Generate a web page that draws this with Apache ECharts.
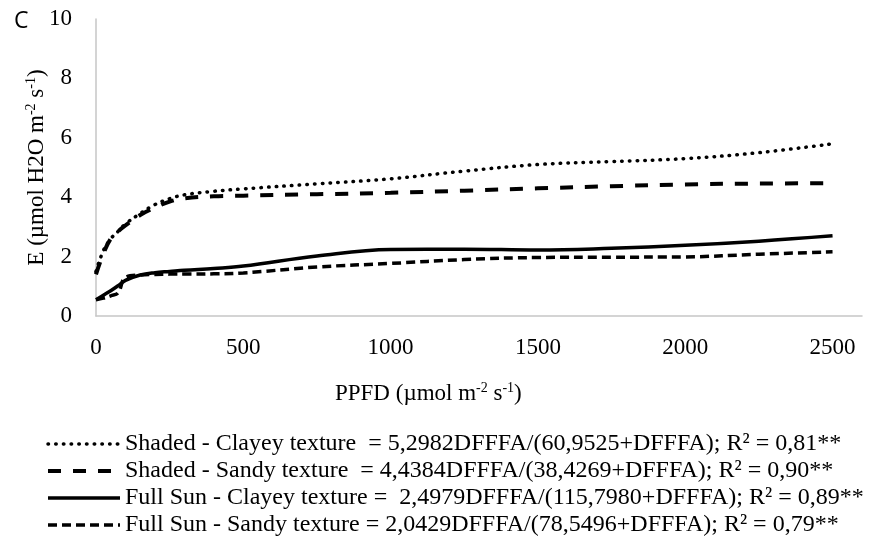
<!DOCTYPE html>
<html>
<head>
<meta charset="utf-8">
<script src="https://cdn.jsdelivr.net/npm/echarts/dist/echarts.min.js"></script>
<style>
  html, body { margin: 0; padding: 0; background: #fff; }
  #chart { width: 869px; height: 540px; }
</style>
</head>
<body>
<div id="chart"></div>
<script>
// PPFD points
var ppfd = [0, 25, 50, 75, 100, 150, 200, 250, 300, 400, 500, 750, 1000, 1250, 1500, 1750, 2000, 2250, 2500];

var shadedClayey = [1.5, 2.2, 2.6, 2.85, 3.1, 3.45, 3.75, 3.95, 4.08, 4.2, 4.28, 4.45, 4.62, 4.88, 5.1, 5.2, 5.3, 5.5, 5.8];
var shadedSandy = [1.4, 2.1, 2.6, 2.85, 3.05, 3.4, 3.65, 3.85, 3.96, 4.03, 4.05, 4.1, 4.15, 4.22, 4.3, 4.37, 4.43, 4.46, 4.47];
var sunClayey = [0.55, 0.7, 0.85, 1.02, 1.2, 1.38, 1.46, 1.5, 1.54, 1.6, 1.68, 2.02, 2.24, 2.25, 2.22, 2.28, 2.38, 2.52, 2.7];
var sunSandy = [0.55, 0.6, 0.68, 0.78, 1.3, 1.38, 1.4, 1.41, 1.41, 1.42, 1.45, 1.65, 1.77, 1.9, 1.97, 1.98, 1.99, 2.08, 2.16];

var seriesNames = [
    'Shaded - Clayey texture  = 5,2982DFFFA/(60,9525+DFFFA); R² = 0,81**',
    'Shaded - Sandy texture  = 4,4384DFFFA/(38,4269+DFFFA); R² = 0,90**',
    'Full Sun - Clayey texture =  2,4979DFFFA/(115,7980+DFFFA); R² = 0,89**',
    'Full Sun - Sandy texture = 2,0429DFFFA/(78,5496+DFFFA); R² = 0,79**'
];
var xTicks = [0, 500, 1000, 1500, 2000, 2500];

function pairs(ys) {
    return ppfd.map(function (x, i) { return [x, ys[i]]; });
}

var serif = 'Liberation Serif';

// one style per curve, reused for the legend icons
var styles = [
    { color: '#000', width: 3.5, type: [0.5, 7.2], cap: 'round' },
    { color: '#000', width: 4, type: [13, 12] },
    { color: '#000', width: 3.5, type: 'solid' },
    { color: '#000', width: 3.5, type: [9, 5] }
];

var myChart = echarts.init(document.getElementById('chart'));
var option = {
    backgroundColor: '#fff',
    animation: false,
    color: ['#000', '#000', '#000', '#000'],
    title: {
        text: 'C',
        left: 9,
        top: 5,
        textStyle: { fontFamily: 'Open Sans', fontWeight: 'normal', fontSize: 23, color: '#000' }
    },
    grid: { left: 96, right: 7, top: 19, bottom: 224 },
    xAxis: {
        type: 'value',
        min: 0,
        max: 2600,
        interval: 500,
        axisLine: { lineStyle: { color: '#c6c6c6', width: 1.5 } },
        axisTick: { show: false },
        splitLine: { show: false },
        axisLabel: {
            showMaxLabel: false,
            margin: 20,
            fontFamily: serif,
            fontSize: 23,
            color: '#000',
            formatter: function (v) { return xTicks.indexOf(v) >= 0 ? String(v) : ''; }
        }
    },
    yAxis: {
        type: 'value',
        min: 0,
        max: 10,
        interval: 2,
        axisLine: { show: true, lineStyle: { color: '#c6c6c6', width: 1.5 } },
        axisTick: { show: false },
        splitLine: { show: false },
        axisLabel: { margin: 24, fontFamily: serif, fontSize: 23, color: '#000' },
        name: 'E (µmol H2O m{sup|-2} s{sup|-1})',
        nameLocation: 'middle',
        nameGap: 46,
        nameMoveOverlap: false,
        nameTextStyle: {
            fontFamily: serif,
            fontSize: 23,
            color: '#000',
            lineHeight: 26,
            rich: {
                sup: { fontFamily: serif, fontSize: 14, color: '#000', verticalAlign: 'top', lineHeight: 26 }
            }
        }
    },
    legend: {
        orient: 'vertical',
        left: 46,
        top: 432,
        padding: 0,
        itemWidth: 72,
        itemHeight: 14,
        itemGap: 3,
        itemStyle: { opacity: 0 },
        textStyle: { fontFamily: serif, fontSize: 24, color: '#000', lineHeight: 24 },
        data: seriesNames.map(function (n, i) {
            return { name: n, lineStyle: styles[i] };
        })
    },
    graphic: [{
        type: 'text',
        left: 335,
        top: 381,
        style: {
            text: 'PPFD (µmol m{sup|-2} s{sup|-1})',
            fontFamily: serif,
            fontSize: 23,
            fill: '#000',
            lineHeight: 26,
            rich: {
                sup: { fontFamily: serif, fontSize: 14, fill: '#000', verticalAlign: 'top', lineHeight: 26 }
            }
        }
    }],
    series: [
        { name: seriesNames[0], type: 'line', smooth: 0.4, symbol: 'none', data: pairs(shadedClayey), lineStyle: styles[0] },
        { name: seriesNames[1], type: 'line', smooth: 0.4, symbol: 'none', data: pairs(shadedSandy), lineStyle: styles[1] },
        { name: seriesNames[2], type: 'line', smooth: 0.4, symbol: 'none', data: pairs(sunClayey), lineStyle: styles[2] },
        { name: seriesNames[3], type: 'line', smooth: 0.4, symbol: 'none', data: pairs(sunSandy), lineStyle: styles[3] }
    ]
};
myChart.setOption(option);
</script>
</body>
</html>
